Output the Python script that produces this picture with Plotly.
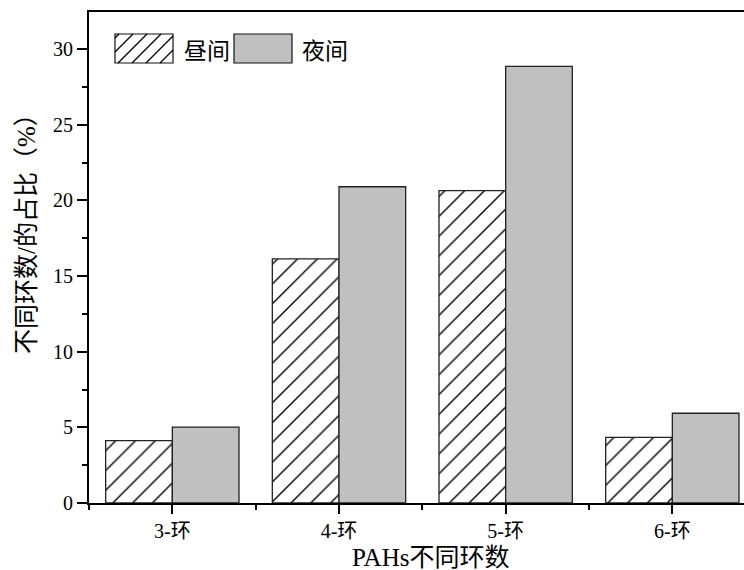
import plotly.graph_objects as go

# Data: share of PAHs by ring number (%), daytime vs night-time
categories = ["3-环", "4-环", "5-环", "6-环"]
day_values = [4.12, 16.13, 20.64, 4.34]
night_values = [5.02, 20.9, 28.86, 5.93]
series_names = ["昼间", "夜间"]
y_ticks = [0, 5, 10, 15, 20, 25, 30]

FONT = "Liberation Serif, Noto Sans CJK SC, serif"
CJK = "Noto Sans CJK SC, Liberation Serif"

W, H = 744, 570
ML, MR, MT, MB = 89, 0, 12, 67
PW, PH = W - ML - MR, H - MT - MB

x_pos = list(range(len(categories)))

fig = go.Figure()
fig.add_trace(go.Bar(
    x=x_pos, y=day_values, name=series_names[0],
    marker=dict(color="white", line=dict(color="#222", width=1.3),
                pattern=dict(shape="/", fgcolor="black", bgcolor="white",
                             size=14, solidity=0.1, fgopacity=1)),
    showlegend=False,
))
fig.add_trace(go.Bar(
    x=x_pos, y=night_values, name=series_names[1],
    marker=dict(color="#c0c0c0", line=dict(color="#222", width=1.3)),
    showlegend=False,
))


def px_to_paper(px, py):
    return (px - ML) / PW, (H - MB - py) / PH


shapes = []
# legend key for daytime: hatched rectangle
bx0, by0, bx1, by1 = 115, 34, 173, 63
x0, y0 = px_to_paper(bx0, by1)
x1, y1 = px_to_paper(bx1, by0)
shapes.append(dict(type="rect", xref="paper", yref="paper", x0=x0, y0=y0, x1=x1, y1=y1,
                   line=dict(color="#111", width=1.2), fillcolor="white", layer="above"))
step = 14
hh = by1 - by0
segs = []
k = bx0 - hh + 4
while k < bx1:
    # 45-degree hatch line starting at the bottom edge, clipped to the key box
    sx, sy = k, by1
    ex, ey = k + hh, by0
    if sx < bx0:
        sy = by1 - (bx0 - sx)
        sx = bx0
    if ex > bx1:
        ey = by0 + (ex - bx1)
        ex = bx1
    if ex > sx:
        a = px_to_paper(sx, sy)
        b = px_to_paper(ex, ey)
        segs.append(f"M{a[0]},{a[1]} L{b[0]},{b[1]}")
    k += step
shapes.append(dict(type="path", xref="paper", yref="paper", path=" ".join(segs),
                   line=dict(color="black", width=1.3), layer="above"))
# legend key for night-time: gray rectangle
gx0, gy0, gx1, gy1 = 234, 34, 292, 63
x0, y0 = px_to_paper(gx0, gy1)
x1, y1 = px_to_paper(gx1, gy0)
shapes.append(dict(type="rect", xref="paper", yref="paper", x0=x0, y0=y0, x1=x1, y1=y1,
                   line=dict(color="#111", width=1.2), fillcolor="#c0c0c0", layer="above"))

annotations = []
for txt, px in [(series_names[0], 182), (series_names[1], 300)]:
    ax, ay = px_to_paper(px, 48.5)
    annotations.append(dict(text=txt, x=ax, y=ay, xref="paper", yref="paper",
                            xanchor="left", yanchor="middle", showarrow=False,
                            font=dict(family=CJK, size=23, color="black")))
# axis titles
ax, ay = px_to_paper(430, 557)
annotations.append(dict(text="PAHs不同环数", x=ax, y=ay, xref="paper", yref="paper",
                        xanchor="center", yanchor="middle", showarrow=False,
                        font=dict(family=FONT, size=25, color="black")))
ax, ay = px_to_paper(26, 228)
annotations.append(dict(text="不同环数/的占比（%）", x=ax, y=ay, xref="paper", yref="paper",
                        xanchor="center", yanchor="middle", showarrow=False, textangle=-90,
                        font=dict(family=FONT, size=25, color="black")))

fig.update_layout(
    width=W, height=H,
    margin=dict(l=ML, r=MR, t=MT, b=MB, pad=0),
    paper_bgcolor="white", plot_bgcolor="white",
    barmode="group", bargap=0.2, bargroupgap=0,
    font=dict(family=FONT, size=20, color="black"),
    shapes=shapes, annotations=annotations,
    xaxis=dict(
        range=[-0.5, 3.43], tickmode="array", tickvals=x_pos, ticktext=categories,
        ticks="outside", ticklen=9, tickwidth=2, tickcolor="black",
        showline=True, linewidth=2, linecolor="black", mirror=True,
        showgrid=False, zeroline=False,
        tickfont=dict(family=FONT, size=20, color="black"),
        minor=dict(tickmode="array", tickvals=[-0.5, 0.5, 1.5, 2.5],
                   ticks="outside", ticklen=5, tickwidth=2, tickcolor="black"),
    ),
    yaxis=dict(
        range=[0, 32.45], tickmode="array", tickvals=y_ticks,
        ticks="outside", ticklen=10, tickwidth=2, tickcolor="black",
        showline=True, linewidth=2, linecolor="black",
        showgrid=False, zeroline=False,
        tickfont=dict(family=FONT, size=20, color="black"),
        minor=dict(dtick=2.5, tick0=0, ticks="outside", ticklen=5, tickwidth=2,
                   tickcolor="black", showgrid=False),
    ),
)

fig.write_html("out.html")
